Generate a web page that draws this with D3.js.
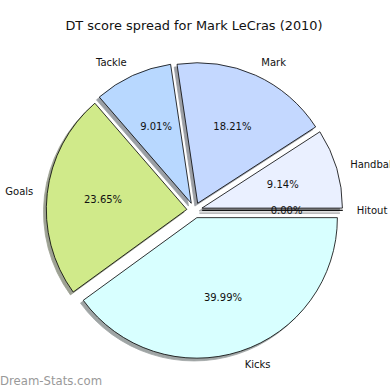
<!DOCTYPE html>
<html>
<head>
<meta charset="utf-8">
<script src="https://cdn.jsdelivr.net/npm/d3@7"></script>
<style>
  body { margin: 0; background: #fff; }
  text { font-family: "DejaVu Sans", sans-serif; }
</style>
</head>
<body>
<div class="chart"></div>
<script>
// pie data, in matplotlib order (counter-clockwise from 3 o'clock)
var labels = ["Handball", "Mark", "Tackle", "Goals", "Kicks", "Hitout"];
var values = [9.14, 18.21, 9.01, 23.65, 39.99, 0.00];
var colors = ["#eaf0ff", "#c4d8ff", "#b8d8ff", "#d0ea8a", "#d8ffff", "#eaf0ff"];

var svgWidth = 390;
var svgHeight = 390;
var cx = 194.5, cy = 210.3;
var radius = 140.5;
var explode = 0.055 * radius;

var svg = d3.select(".chart")
    .append("svg")
    .attr("width", svgWidth)
    .attr("height", svgHeight);

svg.append("text")
    .attr("x", 194)
    .attr("y", 30)
    .attr("text-anchor", "middle")
    .attr("font-size", "12.9px")
    .attr("fill", "#111")
    .text("DT score spread for Mark LeCras (2010)");

var data = labels.map((l, i) => ({label: l, value: values[i], color: colors[i]}));

// d3 angles: 0 at top, clockwise; go counter-clockwise from 3 o'clock
var pie = d3.pie()
    .sort(null)
    .value(d => d.value)
    .startAngle(Math.PI / 2)
    .endAngle(Math.PI / 2 - 2 * Math.PI);

var arcs = pie(data);
var arc = d3.arc().innerRadius(0).outerRadius(radius);

function center(d) {
    var a = (d.startAngle + d.endAngle) / 2;
    return [cx + explode * Math.sin(a), cy - explode * Math.cos(a)];
}

var g = svg.append("g");

// shadows first, under every wedge
g.selectAll(".shadow")
    .data(arcs)
    .enter()
    .append("path")
    .attr("class", "shadow")
    .attr("transform", d => {
        var c = center(d);
        return `translate(${c[0] - 2.8}, ${c[1] + 2.8})`;
    })
    .attr("d", arc)
    .attr("fill", d => {
        var c = d3.rgb(d.data.color);
        return d3.rgb(c.r * 0.3, c.g * 0.3, c.b * 0.3);
    })
    .attr("stroke", d => {
        var c = d3.rgb(d.data.color);
        return d3.rgb(c.r * 0.3, c.g * 0.3, c.b * 0.3);
    })
    .attr("stroke-width", 0.8)
    .attr("opacity", 0.5);

g.selectAll(".wedge")
    .data(arcs)
    .enter()
    .append("path")
    .attr("class", "wedge")
    .attr("transform", d => `translate(${center(d)[0]}, ${center(d)[1]})`)
    .attr("d", arc)
    .attr("fill", d => d.data.color)
    .attr("stroke", "#000")
    .attr("stroke-width", 0.8);

// outer labels at 1.1r
g.selectAll(".lbl")
    .data(arcs)
    .enter()
    .append("text")
    .attr("class", "lbl")
    .attr("x", d => center(d)[0] + 1.1 * radius * Math.sin((d.startAngle + d.endAngle) / 2))
    .attr("y", d => center(d)[1] - 1.1 * radius * Math.cos((d.startAngle + d.endAngle) / 2))
    .attr("dy", "0.35em")
    .attr("text-anchor", d => Math.sin((d.startAngle + d.endAngle) / 2) > 0 ? "start" : "end")
    .attr("font-size", "10px")
    .attr("fill", "#111")
    .text(d => d.data.label);

// percentages at 0.6r
g.selectAll(".pct")
    .data(arcs)
    .enter()
    .append("text")
    .attr("class", "pct")
    .attr("x", d => center(d)[0] + 0.6 * radius * Math.sin((d.startAngle + d.endAngle) / 2))
    .attr("y", d => center(d)[1] - 0.6 * radius * Math.cos((d.startAngle + d.endAngle) / 2))
    .attr("dy", "0.35em")
    .attr("text-anchor", "middle")
    .attr("font-size", "10px")
    .attr("fill", "#111")
    .text(d => d.data.value.toFixed(2) + "%");

svg.append("text")
    .attr("x", 0)
    .attr("y", 385)
    .attr("font-size", "11.7px")
    .attr("fill", "#999")
    .text("Dream-Stats.com");
</script>
</body>
</html>
